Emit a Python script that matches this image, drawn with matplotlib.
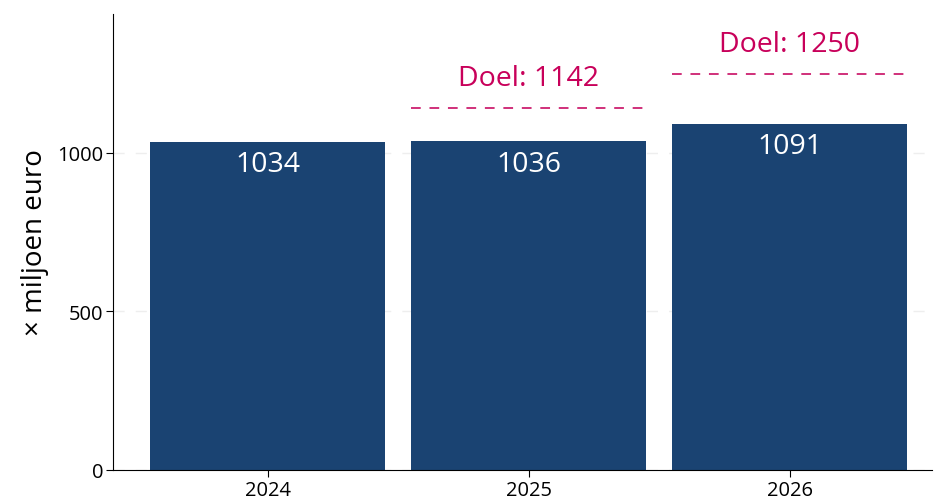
import matplotlib
matplotlib.use("Agg")
import matplotlib.pyplot as plt

years = ["2024", "2025", "2026"]
values = [1034, 1036, 1091]
target_years = ["2025", "2026"]
targets = [1142, 1250]
yticks = [0, 500, 1000]

plt.rcParams['font.family'] = ['Open Sans', 'DejaVu Sans']

fig = plt.figure(figsize=(9.34, 5.02), dpi=100)
ax = fig.add_axes([0.121, 0.062, 0.877, 0.908])

x = list(range(len(years)))
ax.bar(x, values, width=0.9, color="#1a4372", zorder=2)
for xi, v in zip(x, values):
    ax.annotate(str(v), (xi, v), xytext=(0, -6), textcoords="offset points",
                ha="center", va="top", color="white", fontsize=20.5, zorder=3)

for ty, t in zip(target_years, targets):
    xi = years.index(ty)
    ax.plot([xi - 0.45, xi + 0.45], [t, t], color="#d0307a", lw=1.4,
            dashes=(5, 4.5), zorder=3)
    ax.annotate(f"Doel: {t}", (xi, t), xytext=(0, 11), textcoords="offset points",
                ha="center", va="bottom", color="#c8005a", fontsize=20.5)

ax.set_xlim(-0.592, 2.546)
ax.set_ylim(0, 1437.5)
ax.set_xticks(x)
ax.set_xticklabels(years, fontsize=14.5)
ax.set_yticks(yticks)
ax.set_yticklabels([str(t) for t in yticks], fontsize=14.5)
ax.yaxis.grid(True, color="#eeeeee", lw=1, linestyle=(0, (8, 8)), zorder=0)
ax.set_axisbelow(True)
for s in ["top", "right"]:
    ax.spines[s].set_visible(False)
ax.spines["left"].set_color("black")
ax.spines["bottom"].set_color("black")
ax.tick_params(axis="both", length=5, color="black", pad=2)
ax.set_ylabel("× miljoen euro", fontsize=20, labelpad=6)

fig.savefig("out.png", dpi=100)
